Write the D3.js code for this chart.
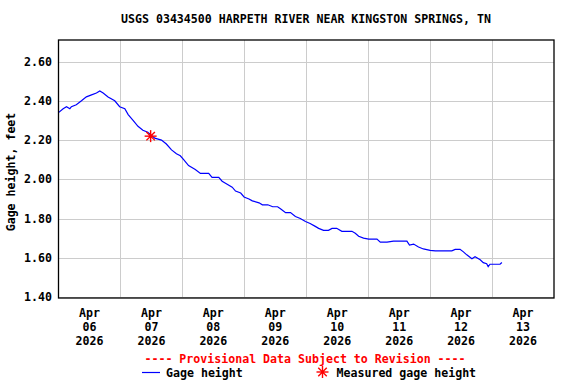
<!DOCTYPE html>
<html><head><meta charset="utf-8">
<script src="https://cdn.jsdelivr.net/npm/d3@7"></script>
<style>
body{margin:0;background:#fff;}
text{font-family:"DejaVu Sans Mono","Liberation Mono",monospace;font-weight:bold;font-size:11.6px;}
</style></head>
<body><svg id="c" width="576" height="384"></svg>
<script>
const title = "USGS 03434500 HARPETH RIVER NEAR KINGSTON SPRINGS, TN";
const yLabel = "Gage height, feet";
const startDate = new Date(2026, 3, 6, 0, 0);
const endDate = new Date(2026, 3, 14, 0, 0);
const dayTicks = ["06","07","08","09","10","11","12","13"];
const yTicks = [1.40, 1.60, 1.80, 2.00, 2.20, 2.40, 2.60];
// hours since Apr 06 00:00
const hours = [0,1.8,3.1,4.4,5,6.9,8.9,10.8,12.8,14.7,16,17.3,19.2,21.8,23.7,25.7,27,28.9,30.8,32.7,34.6,37.3,39.9,41.8,43.8,45.7,47.2,48.5,50.4,53,55,58.2,59.5,62.1,63.4,64.7,67.3,68.6,70.6,71.9,73.8,75.1,77.7,79,81.1,83,84.9,86,88,89.9,91.8,93.7,95.7,97.5,99.5,100.8,102.7,104.6,106,107.8,109.8,112.4,113.7,115,116.3,118.2,120.2,123.4,124.7,127.3,129.8,135,136,137.6,139.5,141.4,144,146,152.4,153.7,155.6,156.9,158.2,160.2,161.4,163.4,164.6,165.9,166.5,167.2,171.1,171.8];
const gage = [2.34,2.36,2.37,2.36,2.37,2.38,2.40,2.42,2.43,2.44,2.45,2.44,2.42,2.40,2.37,2.36,2.33,2.30,2.27,2.25,2.24,2.21,2.20,2.18,2.15,2.13,2.12,2.10,2.07,2.05,2.03,2.03,2.01,2.01,1.99,1.98,1.96,1.94,1.93,1.91,1.90,1.89,1.88,1.87,1.87,1.86,1.86,1.85,1.83,1.83,1.81,1.80,1.785,1.775,1.76,1.75,1.74,1.74,1.75,1.75,1.735,1.735,1.735,1.725,1.71,1.70,1.695,1.695,1.68,1.68,1.685,1.685,1.665,1.67,1.655,1.645,1.638,1.635,1.635,1.643,1.643,1.63,1.615,1.595,1.605,1.59,1.575,1.57,1.555,1.567,1.567,1.576];
const measuredHours = [35.7];
const measuredValues = [2.22];

const svg = d3.select("#c");
const L = 58.5, R = 554, T = 40, B = 298;
const x = d3.scaleTime().domain([startDate, endDate]).range([L, R]);
const y = d3.scaleLinear().domain([1.395, 2.71]).range([B, T]);
const hd = h => new Date(startDate.getTime() + h * 3600000);

svg.append("text").attr("x", 306).attr("y", 23).attr("text-anchor", "middle").text(title);

const days = d3.timeDay.range(startDate, endDate).slice(1);
svg.selectAll(".vg").data(days).enter().append("line")
  .attr("x1", d => Math.round(x(d)) + 0.5).attr("x2", d => Math.round(x(d)) + 0.5)
  .attr("y1", T).attr("y2", B).attr("stroke", "#cccccc");
svg.selectAll(".hg").data(yTicks).enter().append("line")
  .attr("x1", L).attr("x2", R)
  .attr("y1", d => Math.round(y(d)) + 0.5).attr("y2", d => Math.round(y(d)) + 0.5)
  .attr("stroke", "#cccccc");

svg.selectAll(".yl").data(yTicks).enter().append("text")
  .attr("x", 52).attr("y", d => y(d) + 4).attr("text-anchor", "end")
  .text(d => d3.format(".2f")(d));
svg.append("text").attr("transform", "translate(15,172) rotate(-90)")
  .attr("text-anchor", "middle").text(yLabel);

const noons = d3.timeDay.range(startDate, endDate).map(d => d3.timeHour.offset(d, 12));
noons.forEach((d, i) => {
  const g = svg.append("text").attr("x", x(d)).attr("text-anchor", "middle");
  g.append("tspan").attr("x", x(d)).attr("y", 317).text("Apr");
  g.append("tspan").attr("x", x(d)).attr("y", 331).text(dayTicks[i]);
  g.append("tspan").attr("x", x(d)).attr("y", 345).text("2026");
});

const pts = hours.map((h, i) => [hd(h), gage[i]]);
svg.append("path").datum(pts)
  .attr("d", d3.line().x(d => x(d[0])).y(d => y(d[1])).curve(d3.curveLinear))
  .attr("fill", "none").attr("stroke", "#0000ff").attr("stroke-width", 1.2);

function star(g, cx, cy, r) {
  for (let k = 0; k < 4; k++) {
    const a = k * Math.PI / 4;
    g.append("line").attr("x1", cx - r * Math.cos(a)).attr("y1", cy - r * Math.sin(a))
      .attr("x2", cx + r * Math.cos(a)).attr("y2", cy + r * Math.sin(a))
      .attr("stroke", "#ff0000").attr("stroke-width", 1.4);
  }
  g.append("circle").attr("cx", cx).attr("cy", cy).attr("r", 1.8).attr("fill", "#ff0000");
}
measuredHours.forEach((h, i) => star(svg, x(hd(h)), y(measuredValues[i]), 6));

svg.append("rect").attr("x", L).attr("y", T).attr("width", R - L).attr("height", B - T)
  .attr("fill", "none").attr("stroke", "#000").attr("stroke-width", 1.3);

svg.append("text").attr("x", 305).attr("y", 363).attr("text-anchor", "middle")
  .attr("fill", "#ff0000").text("---- Provisional Data Subject to Revision ----");
svg.append("line").attr("x1", 142).attr("x2", 160).attr("y1", 372.5).attr("y2", 372.5)
  .attr("stroke", "#0000ff").attr("stroke-width", 1.2);
svg.append("text").attr("x", 166).attr("y", 377).text("Gage height");
star(svg, 322.5, 372, 6);
svg.append("text").attr("x", 336.5).attr("y", 377).text("Measured gage height");
</script></body></html>
